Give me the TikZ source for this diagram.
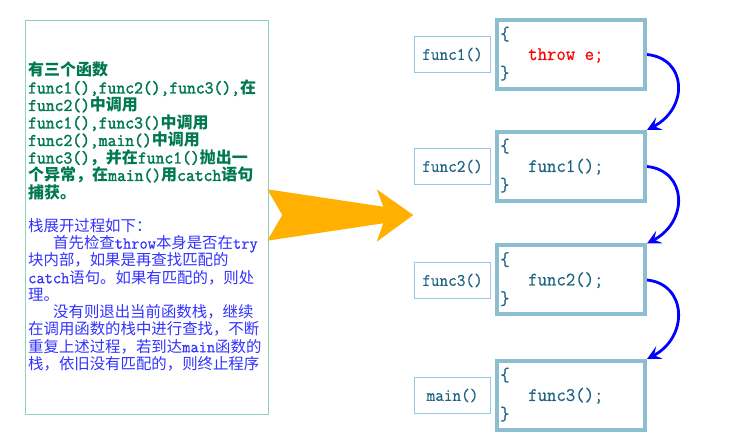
\documentclass[tikz,border=0pt]{standalone}
\usepackage{fontspec}
\setmainfont{Latin Modern Mono}[FakeStretch=0.952, FakeBold=0.5, BoldFont={Latin Modern Mono}, BoldFeatures={FakeBold=2}]
\newfontfamily\cjkg[Scale=0.889]{Noto Sans CJK SC}
\newfontfamily\cjkb[Scale=0.917]{Noto Sans CJK SC}
\usetikzlibrary{arrows.meta}
\newcommand\G[1]{{\cjkg #1}}
\newcommand\B[1]{{\cjkb #1}}
\definecolor{leftframe}{RGB}{140,210,185}
\definecolor{greentext}{RGB}{0,120,80}
\definecolor{bluetext}{RGB}{50,50,255}
\definecolor{orangearrow}{RGB}{255,176,0}
\definecolor{codeframe}{RGB}{139,190,206}
\definecolor{labelframe}{RGB}{150,200,225}
\definecolor{codetext}{RGB}{30,100,130}
\definecolor{callblue}{RGB}{0,0,255}
\tikzset{
  gline/.style={anchor=base west, inner sep=0pt, text=greentext, font=\fontsize{18}{20}\selectfont\bfseries},
  bline/.style={anchor=base west, inner sep=0pt, text=bluetext, font=\fontsize{16.8}{19}\selectfont},
  codebox/.style={draw=codeframe, line width=4pt, minimum width=148pt, minimum height=69pt, inner sep=0pt},
  labelbox/.style={draw=labelframe, line width=1pt, minimum width=76pt, minimum height=36pt, inner sep=0pt, text=codetext, font=\fontsize{17.6}{19}\selectfont},
  codeline/.style={anchor=base west, inner sep=0pt, text=codetext, font=\fontsize{19.2}{21}\selectfont},
  callarrow/.style={draw=callblue, line width=2.8pt, -{Stealth[length=14pt,width=14pt,inset=6pt]}},
}
\begin{document}
\begin{tikzpicture}[x=1pt,y=-1pt]
\useasboundingbox (0,0) rectangle (755,435);
% big orange arrow
\fill[orangearrow] (267.3,189.3) -- (383.3,206.7) -- (376.7,189.3) -- (413.3,215) -- (376.7,241.7) -- (383.3,223.3) -- (267.3,240.7) -- (282.3,215) -- cycle;
% left text frame
\node[draw=leftframe, line width=1pt, minimum width=243pt, minimum height=394pt, inner sep=0pt, anchor=north west] (frame) at (24.5,20) {};
% green text
\node[gline] (g1) at (28,76) {\G{有三个函数}};
\node[gline] (g2) at (28,93.5) {func1(),func2(),func3(),\G{在}};
\node[gline] (g3) at (28,111) {func2()\G{中调用}};
\node[gline] (g4) at (28,128.5) {func1(),func3()\G{中调用}};
\node[gline] (g5) at (28,146) {func2(),main()\G{中调用}};
\node[gline] (g6) at (28,163.5) {func3()\G{，并在}func1()\G{抛出一}};
\node[gline] (g7) at (28,181) {\G{个异常，在}main()\G{用}catch\G{语句}};
\node[gline] (g8) at (28,198.5) {\G{捕获。}};
% blue text
\node[bline] (b1) at (28,231.5) {\B{栈展开过程如下：}};
\node[bline] (b2) at (53,248.75) {\B{首先检查}throw\B{本身是否在}try};
\node[bline] (b3) at (28,266) {\B{块内部，如果是再查找匹配的}};
\node[bline] (b4) at (28,283.25) {catch\B{语句。如果有匹配的，则处}};
\node[bline] (b5) at (28,300.5) {\B{理。}};
\node[bline] (b6) at (53,317.75) {\B{没有则退出当前函数栈，继续}};
\node[bline] (b7) at (28,335) {\B{在调用函数的栈中进行查找，不断}};
\node[bline] (b8) at (28,352.25) {\B{重复上述过程，若到达}main\B{函数的}};
\node[bline] (b9) at (28,369.5) {\B{栈，依旧没有匹配的，则终止程序}};
% label boxes
\node[labelbox] (l1) at (452.5,54.5) {func1()};
\node[labelbox] (l2) at (452.5,166.5) {func2()};
\node[labelbox] (l3) at (452.5,280.5) {func3()};
\node[labelbox] (l4) at (452.5,395.5) {main()};
% code boxes
\node[codebox] (c1) at (571,54.5) {};
\node[codebox] (c2) at (571,166.5) {};
\node[codebox] (c3) at (571,280) {};
\node[codebox] (c4) at (571,395.5) {};
% code text
\node[codeline] (o1) at (500,40) {\{};
\node[codeline,text=red] (t1) at (528,60) {throw e;};
\node[codeline] (e1) at (500,79) {\}};
\node[codeline] (o2) at (500,152) {\{};
\node[codeline] (t2) at (528,172) {func1();};
\node[codeline] (e2) at (500,191) {\}};
\node[codeline] (o3) at (500,265.5) {\{};
\node[codeline] (t3) at (528,285.5) {func2();};
\node[codeline] (e3) at (500,304.5) {\}};
\node[codeline] (o4) at (500,381) {\{};
\node[codeline] (t4) at (528,401) {func3();};
\node[codeline] (e4) at (500,420) {\}};
% call arrows
\draw[callarrow] (c1.east) .. controls +(40,4) and +(42,-22) .. (c2.north east);
\draw[callarrow] (c2.east) .. controls +(40,4) and +(42,-22) .. (c3.north east);
\draw[callarrow] (c3.east) .. controls +(40,4) and +(42,-22) .. (c4.north east);
\end{tikzpicture}
\end{document}
